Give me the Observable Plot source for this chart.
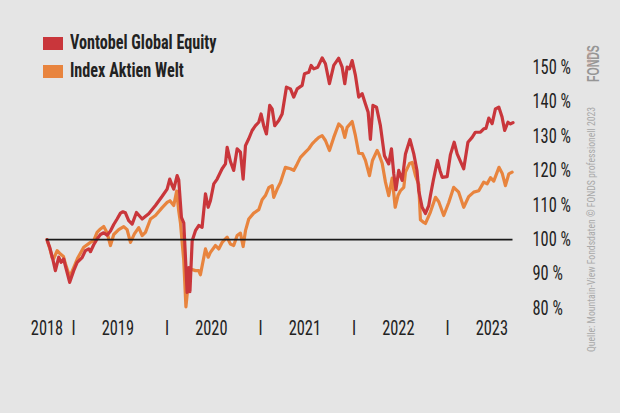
<!DOCTYPE html>
<html><head><meta charset="utf-8">
<script src="https://cdn.jsdelivr.net/npm/d3@7"></script>
<script src="https://cdn.jsdelivr.net/npm/@observablehq/plot@0.6"></script>
<style>
html,body{margin:0;padding:0;background:#e5e5e5;}
#wrap{position:relative;width:620px;height:413px;overflow:hidden;background:#e5e5e5;
  font-family:"Liberation Sans Narrow","Arial Narrow","Roboto Condensed","DejaVu Sans Condensed","Liberation Sans",sans-serif;}
#chart{position:absolute;left:0;top:0;}
.row{position:absolute;left:43px;white-space:nowrap;}
.sw{position:absolute;left:0;top:0;width:20px;height:13px;}
.lab{position:absolute;left:27px;top:-4px;font-size:19.5px;line-height:20px;font-weight:bold;color:#222;
  transform:scaleX(0.83);transform-origin:0 50%;}
.src{position:absolute;left:587px;top:352px;transform-origin:0 0;transform:rotate(-90deg) scaleX(0.97);
  white-space:nowrap;font-size:10px;line-height:10px;color:#a9a9a9;}
.logo{position:absolute;left:586px;top:82px;transform-origin:0 0;transform:rotate(-90deg) scaleX(0.62);
  white-space:nowrap;font-family:"Liberation Sans","DejaVu Sans",sans-serif;font-size:17px;line-height:15px;font-weight:bold;color:#969696;}
.logo span{position:absolute;left:24px;top:1px;font-size:5px;line-height:5px;font-weight:normal;color:#d7a493;}
</style></head>
<body>
<div id="wrap">
  <div id="chart"></div>
  <div class="row" style="top:37px"><div class="sw" style="background:#c9363b"></div><div class="lab" id="lab0"></div></div>
  <div class="row" style="top:65px"><div class="sw" style="background:#e8843e"></div><div class="lab" id="lab1"></div></div>
  <div class="src" id="src"></div>
  <div class="logo">FONDS<span>professionell</span></div>
</div>
<script>
const seriesNames = ["Vontobel Global Equity", "Index Aktien Welt"];
const seriesColors = ["#c9363b", "#e8843e"];
const sourceText = "Quelle: Mountain-View Fondsdaten  © FONDS professionell 2023";

const yTicks = [80, 90, 100, 110, 120, 130, 140, 150];
const yearLabels = [2018, 2019, 2020, 2021, 2022, 2023];
const yearBreaks = [2019, 2020, 2021, 2022, 2023];

const vontobelYears = [
  2018.717, 2018.746, 2018.783, 2018.807, 2018.843, 2018.868, 2018.896, 2018.914, 2018.960,
  2019.003, 2019.040, 2019.093, 2019.128, 2019.164, 2019.182, 2019.217, 2019.253, 2019.289, 2019.324,
  2019.360, 2019.396, 2019.431, 2019.467, 2019.503, 2019.529, 2019.556, 2019.591, 2019.628, 2019.674,
  2019.735, 2019.805, 2019.877, 2019.949, 2020.002, 2020.030, 2020.056, 2020.073, 2020.109, 2020.126,
  2020.155, 2020.180, 2020.205, 2020.216, 2020.233, 2020.246, 2020.270, 2020.305, 2020.340, 2020.376,
  2020.412, 2020.441, 2020.465, 2020.501, 2020.537, 2020.590, 2020.626, 2020.644, 2020.679, 2020.714,
  2020.751, 2020.786, 2020.815, 2020.840, 2020.875, 2020.911, 2020.947, 2020.982, 2021.007, 2021.035,
  2021.064, 2021.099, 2021.125, 2021.153, 2021.196, 2021.232, 2021.278, 2021.321, 2021.356, 2021.393,
  2021.446, 2021.471, 2021.517, 2021.542, 2021.570, 2021.613, 2021.660, 2021.695, 2021.738, 2021.784,
  2021.837, 2021.874, 2021.902, 2021.927, 2021.952, 2021.981, 2022.016, 2022.051, 2022.088, 2022.123,
  2022.152, 2022.176, 2022.203, 2022.241, 2022.283, 2022.326, 2022.372, 2022.401, 2022.426, 2022.449,
  2022.479, 2022.516, 2022.551, 2022.599, 2022.640, 2022.674, 2022.693, 2022.729, 2022.765, 2022.800,
  2022.818, 2022.850, 2022.893, 2022.920, 2022.944, 2022.997, 2023.032, 2023.072, 2023.104, 2023.139,
  2023.174, 2023.219, 2023.264, 2023.299, 2023.353, 2023.388, 2023.412, 2023.442, 2023.478, 2023.513,
  2023.549, 2023.584, 2023.612, 2023.647, 2023.674, 2023.701
];
const vontobelValues = [
  100.0, 97.8, 93.9, 91.0, 94.9, 93.4, 94.4, 92.4, 87.6,
  91.0, 93.4, 94.8, 96.8, 97.3, 96.5, 98.5, 100.2, 101.5, 102.0,
  101.3, 102.5, 104.4, 106.0, 107.7, 108.1, 107.8, 105.5, 104.5, 107.9,
  106.0, 107.5, 109.9, 112.6, 114.7, 117.6, 115.7, 114.7, 118.6, 117.4,
  106.5, 104.9, 91.0, 84.7, 91.9, 84.9, 99.7, 102.6, 104.1, 103.6,
  113.3, 109.4, 111.3, 116.2, 117.6, 120.6, 122.0, 126.8, 122.7, 120.1,
  126.4, 125.4, 117.6, 127.3, 129.3, 131.7, 133.1, 134.1, 136.5, 133.1,
  130.7, 139.0, 138.0, 133.1, 134.6, 136.5, 144.3, 143.8, 141.4, 143.8,
  144.8, 148.2, 148.6, 150.6, 149.6, 150.1, 152.8, 151.1, 145.3, 150.6,
  152.7, 150.1, 145.3, 150.1, 149.6, 152.0, 147.7, 141.4, 142.4, 139.4,
  137.0, 129.1, 139.0, 138.5, 133.1, 124.4, 122.0, 126.4, 119.1, 114.5,
  120.1, 117.2, 124.9, 129.1, 124.9, 120.1, 114.2, 109.4, 107.6, 109.9,
  112.8, 117.4, 123.0, 120.1, 118.1, 118.3, 124.7, 128.3, 124.9, 122.7,
  120.6, 128.3, 129.7, 131.2, 131.2, 132.2, 132.3, 135.3, 133.7, 138.0,
  138.5, 135.6, 131.7, 134.1, 133.6, 134.0
];

const indexYears = [
  2018.717, 2018.754, 2018.772, 2018.789, 2018.826, 2018.861, 2018.893, 2018.914, 2018.960, 2019.003,
  2019.043, 2019.110, 2019.182, 2019.217, 2019.253, 2019.289, 2019.324, 2019.360, 2019.396, 2019.431,
  2019.484, 2019.538, 2019.574, 2019.610, 2019.652, 2019.698, 2019.735, 2019.770, 2019.805, 2019.824,
  2019.877, 2019.949, 2020.002, 2020.032, 2020.073, 2020.104, 2020.126, 2020.144, 2020.180, 2020.203,
  2020.227, 2020.251, 2020.305, 2020.340, 2020.358, 2020.412, 2020.441, 2020.465, 2020.519, 2020.554,
  2020.590, 2020.644, 2020.679, 2020.714, 2020.751, 2020.786, 2020.815, 2020.840, 2020.875, 2020.928,
  2020.982, 2021.018, 2021.053, 2021.089, 2021.125, 2021.142, 2021.179, 2021.214, 2021.267, 2021.321,
  2021.356, 2021.393, 2021.428, 2021.481, 2021.517, 2021.553, 2021.588, 2021.624, 2021.660, 2021.695,
  2021.738, 2021.784, 2021.837, 2021.874, 2021.902, 2021.927, 2021.981, 2022.016, 2022.051, 2022.091,
  2022.123, 2022.166, 2022.198, 2022.248, 2022.266, 2022.302, 2022.337, 2022.372, 2022.409, 2022.441,
  2022.471, 2022.497, 2022.533, 2022.551, 2022.594, 2022.623, 2022.658, 2022.693, 2022.711, 2022.747,
  2022.765, 2022.818, 2022.872, 2022.907, 2022.960, 2023.014, 2023.067, 2023.120, 2023.174, 2023.227,
  2023.281, 2023.335, 2023.388, 2023.425, 2023.460, 2023.495, 2023.551, 2023.585, 2023.620, 2023.656,
  2023.692
];
const indexValues = [
  100.0, 96.8, 94.8, 94.5, 96.8, 95.8, 95.1, 93.0, 89.2, 91.9,
  94.5, 97.8, 99.2, 99.7, 102.1, 103.1, 103.8, 102.0, 98.3, 101.5,
  102.9, 103.8, 102.9, 99.2, 101.7, 103.5, 101.2, 102.1, 104.6, 106.0,
  107.0, 109.3, 110.8, 111.3, 109.9, 114.1, 108.4, 105.0, 93.9, 80.5,
  87.1, 91.5, 91.0, 91.0, 89.8, 97.3, 94.9, 96.3, 98.3, 97.3,
  99.2, 100.7, 98.7, 98.3, 101.2, 101.9, 98.0, 102.6, 106.0, 107.7,
  108.7, 111.6, 112.8, 115.1, 115.7, 112.3, 114.7, 116.6, 121.0, 120.6,
  120.1, 122.0, 123.9, 125.4, 126.4, 127.8, 128.8, 129.7, 130.2, 128.8,
  125.9, 129.7, 133.6, 132.6, 129.7, 132.6, 134.3, 130.2, 125.1, 125.0,
  123.0, 118.6, 123.0, 125.9, 124.9, 122.2, 116.7, 112.8, 117.9, 109.4,
  112.8, 114.2, 115.2, 119.6, 122.1, 122.4, 118.6, 116.0, 105.8, 105.0,
  104.7, 108.0, 112.3, 111.0, 107.0, 110.8, 115.2, 113.8, 109.4, 112.5,
  113.8, 114.2, 116.7, 116.2, 118.0, 117.0, 121.0, 119.3, 115.7, 119.1,
  119.6
];

const vontobel = vontobelYears.map((t, i) => ({t, v: vontobelValues[i]}));
const indexW = indexYears.map((t, i) => ({t, v: indexValues[i]}));
const start = vontobelYears[0], end = vontobelYears[vontobelYears.length - 1];
const labelPos = yearLabels.map(y => Math.max(y + 0.475, start));

const FONT = '"Liberation Sans Narrow","Arial Narrow","Roboto Condensed","DejaVu Sans Condensed","Liberation Sans",sans-serif';

const chart = Plot.plot({
  width: 620, height: 413,
  marginLeft: 46, marginRight: 107.5, marginTop: 67, marginBottom: 105,
  style: {background: "transparent", fontFamily: FONT, color: "#222"},
  x: {type: "linear", domain: [start - 0.005, end], axis: null},
  y: {domain: [80, 150], axis: null},
  marks: [
    Plot.axisY({ticks: yTicks, anchor: "right", tickSize: 0, tickPadding: 19.5,
      tickFormat: d => `${d} %`, fontSize: 20, label: null, fill: "#222"}),
    Plot.axisX({ticks: labelPos, anchor: "bottom", tickSize: 0, tickPadding: 12,
      tickFormat: d => String(Math.floor(d + 1e-6)), fontSize: 20, label: null, fill: "#222"}),
    Plot.axisX({ticks: yearBreaks, anchor: "bottom", tickSize: 0, tickPadding: 12,
      tickFormat: () => "I", fontSize: 20, label: null, fill: "#222"}),
    Plot.line(indexW, {x: "t", y: "v", stroke: seriesColors[1], strokeWidth: 3.2, strokeLinejoin: "round"}),
    Plot.line(vontobel, {x: "t", y: "v", stroke: seriesColors[0], strokeWidth: 3.2, strokeLinejoin: "round"}),
    Plot.ruleY([100], {stroke: "#1a1a1a", strokeWidth: 1.6})
  ]
});
document.getElementById("chart").appendChild(chart);

d3.select(chart).selectAll('g[aria-label$="tick label"] text').each(function() {
  const t = this.getAttribute("transform") || "";
  this.setAttribute("transform", t + " scale(0.82,1)");
});

document.getElementById("lab0").textContent = seriesNames[0];
document.getElementById("lab1").textContent = seriesNames[1];
document.getElementById("src").textContent = sourceText;
</script>
</body></html>
